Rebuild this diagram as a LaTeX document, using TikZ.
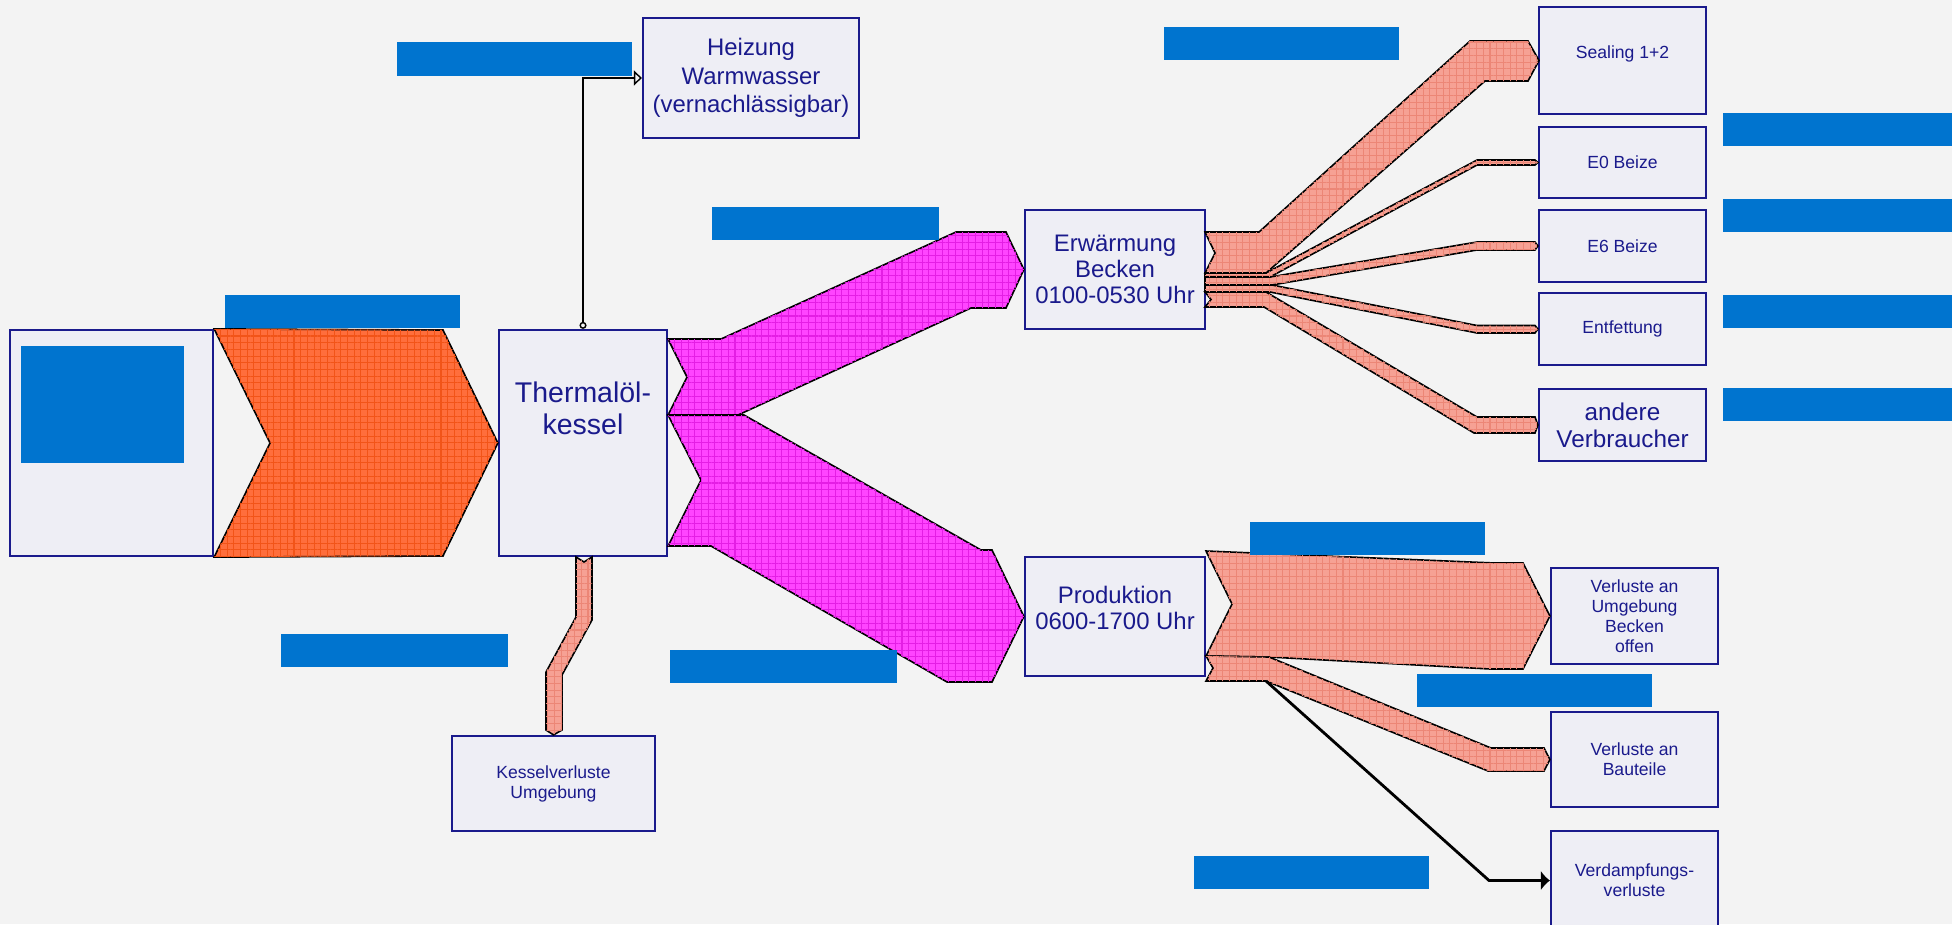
\documentclass[tikz,border=0pt]{standalone}
\usepackage{fontspec}
\setmainfont{Liberation Sans}
\usepackage{tikz}
\usetikzlibrary{arrows.meta, positioning, patterns.meta}

\definecolor{navy}{HTML}{1A1A8C}
\definecolor{boxbg}{HTML}{EEEEF5}
\definecolor{paper}{HTML}{F3F3F3}
\definecolor{redact}{HTML}{0074CF}
\definecolor{oil}{HTML}{FF6E3C}
\definecolor{oilgrid}{HTML}{F25418}
\definecolor{heat}{HTML}{FF44FF}
\definecolor{heatgrid}{HTML}{E41EE4}
\definecolor{loss}{HTML}{F6A194}
\definecolor{lossgrid}{HTML}{EC8676}

\begin{document}
\begin{tikzpicture}[x=0.01cm, y=-0.01cm,
    box/.style={draw=navy, line width=0.6pt, fill=boxbg, text=navy, align=center, inner sep=1pt},
    big/.style={font=\fontsize{8.1}{9.1}\selectfont},
    mid/.style={font=\fontsize{6.8}{7.5}\selectfont},
    small/.style={font=\fontsize{5}{5.7}\selectfont},
    blk/.style={fill=redact, inner sep=0pt, minimum height=0.33cm, minimum width=2.35cm},
    flow/.style 2 args={draw=black, line width=0.45pt, fill=#1,
      postaction={pattern={Lines[angle=0, distance=1.9pt, line width=0.3pt]}, pattern color=#2},
      postaction={pattern={Lines[angle=90, distance=1.9pt, line width=0.3pt]}, pattern color=#2}},
    arr/.style={-{Latex[length=0.9mm, width=2mm]}, line width=0.8pt}]
  \fill[paper] (0,0) rectangle (1952,924);
  \useasboundingbox (0,0) rectangle (1952,924);

  % boxes
  \node[box, minimum width=2.03cm, minimum height=2.26cm] (src) at (111.5,443) {};
  \node[box, minimum width=1.68cm, minimum height=2.26cm] (thermal) at (583,443) {};
  \node[big, text=navy, align=center] (thermaltxt) at (583,408) {Thermalöl-\\kessel};
  \node[box, font=\fontsize{6.8}{8.1}\selectfont, minimum width=2.16cm, minimum height=1.2cm] (heizung) at (751,78) {Heizung\\Warmwasser\\(vernachlässigbar)};
  \node[box, mid, minimum width=1.8cm, minimum height=1.19cm] (erw) at (1115,269.5) {Erwärmung\\Becken\\0100-0530 Uhr};
  \node[box, mid, minimum width=1.8cm, minimum height=1.19cm, text depth=5pt] (prod) at (1115,616.5) {Produktion\\0600-1700 Uhr};
  \node[box, small, minimum width=2.03cm, minimum height=0.95cm] (kessel) at (553.5,783.5) {Kesselverluste\\Umgebung};

  \node[box, small, minimum width=1.67cm, minimum height=1.07cm, text depth=5pt] (sealing) at (1622.5,60.5) {Sealing 1+2};
  \node[box, small, minimum width=1.67cm, minimum height=0.71cm] (e0) at (1622.5,162.5) {E0 Beize};
  \node[box, small, minimum width=1.67cm, minimum height=0.72cm] (e6) at (1622.5,246) {E6 Beize};
  \node[box, small, minimum width=1.67cm, minimum height=0.72cm] (entf) at (1622.5,329) {Entfettung};
  \node[box, font=\fontsize{6.9}{7.7}\selectfont, minimum width=1.67cm, minimum height=0.72cm] (andere) at (1622.5,425) {andere\\Verbraucher};

  \node[box, small, minimum width=1.67cm, minimum height=0.96cm] (vumg) at (1634.5,616) {Verluste an\\Umgebung\\Becken\\offen};
  \node[box, small, minimum width=1.67cm, minimum height=0.95cm] (vbau) at (1634.5,759.5) {Verluste an\\Bauteile};
  \node[box, small, minimum width=1.67cm, minimum height=0.99cm] (verd) at (1634.5,880.5) {Verdampfungs-\\verluste};

  % flows
  \draw[flow={oil}{oilgrid}] (src.north east) -- (443,330) -- (thermal.west) -- (443,556) -- (src.south east) -- (270,443) -- cycle;
  \draw[flow={heat}{heatgrid}] (668,339) -- (721,339) -- (956,232) -- (1006,232) -- (erw.west) -- (1006,308) -- (971,308) -- (738,415) -- (668,415) -- (687,377) -- cycle;
  \draw[flow={heat}{heatgrid}] (668,415) -- (744,415) -- (981,550) -- (992,550) -- (prod.west) -- (992,682) -- (947,682) -- (711,546) -- (668,546) -- (701,480) -- cycle;
  \draw[flow={loss}{lossgrid}] (576,557) -- (584,562) -- (592,557) -- (592,620) -- (562,675) -- (562,730) -- (kessel.north) -- (546,730) -- (546,672) -- (576,617) -- cycle;

  \draw[flow={loss}{lossgrid}] (1205,292) -- (1266,292) -- (1477,417) -- (1535,417) -- (andere.west) -- (1535,433) -- (1474,433) -- (1264,307) -- (1205,307) -- (1211,299.5) -- cycle;
  \draw[flow={loss}{lossgrid}] (1205,285) -- (1272,285) -- (1477,325.5) -- (1535,325.5) -- (entf.west) -- (1535,333) -- (1477,333) -- (1270,292) -- (1205,292) -- cycle;
  \draw[flow={loss}{lossgrid}] (1205,277) -- (1270,277) -- (1477,242) -- (1535,242) -- (e6.west) -- (1535,250) -- (1477,250) -- (1272,285) -- (1205,285) -- cycle;
  \draw[flow={loss}{lossgrid}] (1205,273) -- (1266,273) -- (1477,160) -- (1535,160) -- (e0.west) -- (1535,165) -- (1477,165) -- (1270,277) -- (1205,277) -- cycle;
  \draw[flow={loss}{lossgrid}] (1205,232) -- (1259,232) -- (1470,41) -- (1528,41) -- (1539,60.5) -- (1528,81) -- (1485,81) -- (1266,273) -- (1205,273) -- (1215,253) -- cycle;

  \draw[flow={loss}{lossgrid}] (1206,551) -- (1495,563) -- (1523,563) -- (vumg.west) -- (1523,669) -- (1490,669) -- (1269,657) -- (1206,656) -- (1232,604) -- cycle;
  \draw[flow={loss}{lossgrid}] (1206,656) -- (1269,657) -- (1491,748) -- (1544,748) -- (vbau.west) -- (1544,771) -- (1488,771) -- (1266,681) -- (1206,681) -- (1213,668) -- cycle;

  % thin connectors
  \coordinate (split) at (1266,681);
  \draw[arr] (split) -- (1489,880.5) -- (verd.west);
  \draw[{Circle[open, length=0.7mm]}-{Triangle[open, length=0.8mm, width=1.5mm]}, line width=0.4pt] (thermal.north) |- (heizung.west);

  % covered labels
  \node[fill=redact, inner sep=0pt, minimum width=1.63cm, minimum height=1.17cm] (srcblk) at (102.5,404.5) {};
  \node[blk] (lblheiz) at (514.5,59) {};
  \node[blk] (lblin) at (342.5,311.5) {};
  \node[blk, minimum width=2.27cm] (lbltop) at (825.5,223.5) {};
  \node[blk] (lblfan) at (1281.5,43.5) {};
  \node[blk, minimum width=2.29cm] (lble0) at (1837.5,129.5) {};
  \node[blk, minimum width=2.29cm] (lble6) at (1837.5,215.5) {};
  \node[blk, minimum width=2.29cm] (lblentf) at (1837.5,311.5) {};
  \node[blk, minimum width=2.29cm] (lblandere) at (1837.5,404.5) {};
  \node[blk, minimum width=2.27cm] (lblkessel) at (394.5,650.5) {};
  \node[blk, minimum width=2.27cm] (lblprod) at (783.5,666.5) {};
  \node[blk] (lblumg) at (1367.5,538.5) {};
  \node[blk] (lblbau) at (1534.5,690.5) {};
  \node[blk] (lblverd) at (1311.5,872) {};
\end{tikzpicture}
\end{document}
